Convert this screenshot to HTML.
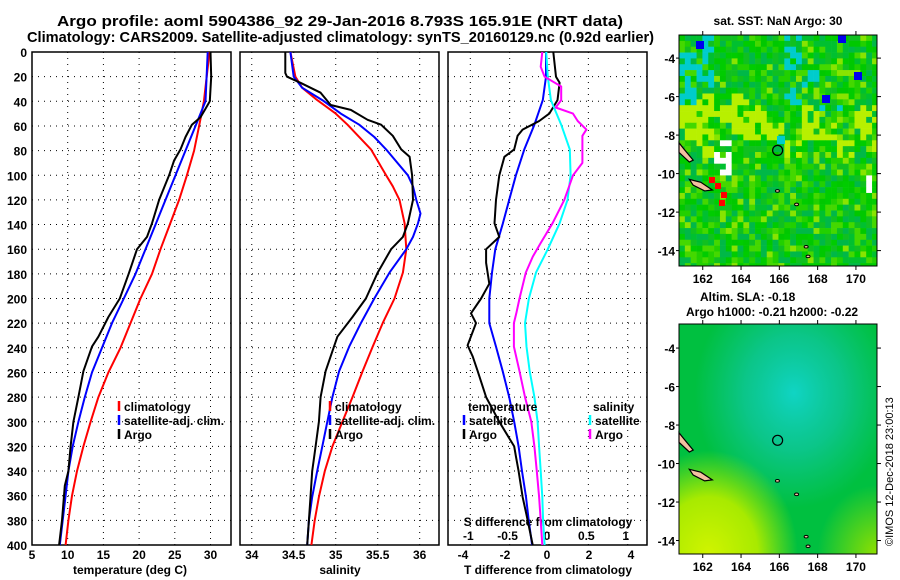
<!DOCTYPE html>
<html><head><meta charset="utf-8"><style>
html,body{margin:0;padding:0;background:#fff;}
svg{display:block;font-family:"Liberation Sans",Arial,sans-serif;font-weight:bold;}
</style></head><body>
<svg id="fig" width="900" height="580" viewBox="0 0 900 580" xmlns="http://www.w3.org/2000/svg">
<rect width="900" height="580" fill="#fff"/>
<text x="57" y="26" font-size="15" textLength="566" lengthAdjust="spacingAndGlyphs">Argo profile: aoml 5904386_92 29-Jan-2016 8.793S 165.91E (NRT data)</text>
<text x="27" y="42" font-size="15" textLength="627" lengthAdjust="spacingAndGlyphs">Climatology: CARS2009. Satellite-adjusted climatology: synTS_20160129.nc (0.92d earlier)</text>
<g id="p1"></g>
<g id="p2"></g>
<g id="p3"></g>
<g id="m1"></g>
<g id="m2"></g>
<text x="778" y="25" font-size="12" text-anchor="middle">sat. SST: NaN Argo: 30</text>
<text x="700" y="301" font-size="12">Altim. SLA: -0.18</text>
<text x="686" y="316" font-size="12">Argo h1000: -0.21 h2000: -0.22</text>
<text transform="translate(893,546) rotate(-90)" font-size="11" font-weight="normal">©IMOS 12-Dec-2018 23:00:13</text>
</svg>
<script>
// ---------- data ----------
const depthTicks = [0,20,40,60,80,100,120,140,160,180,200,220,240,260,280,300,320,340,360,380,400];
const climDepth = [0,40,60,80,100,120,140,160,180,200,220,240,260,280,300,320,340,360,380,400];
const tempClim = [29.86,29.07,28.4,27.7,26.7,25.6,24.3,23.0,21.8,20.2,18.8,17.4,15.7,14.3,13.2,12.2,11.3,10.6,10.1,9.7];
const tempSat = [29.6,29.3,27.9,26.5,25.1,23.7,22.3,20.9,19.5,17.85,16.2,14.8,13.4,12.4,11.5,10.7,10.1,9.7,9.3,8.9];
const argoTDepth = [0,20,40,46,53,59,69,79,88,100,120,139,150,160,179,200,215,231,239,259,280,300,320,340,352,380,400];
const tempArgo = [30.0,30.1,29.9,29.3,28.6,27.4,26.5,25.8,24.9,24.2,22.8,21.8,21.1,19.7,18.6,17.3,15.7,14.3,13.4,12.2,11.5,10.8,10.4,10.1,9.6,9.2,8.8];
const tempTicks = [5,10,15,20,25,30];

const salClimDepth = [0,20,29,39,50,59,79,100,109,120,139,160,179,200,220,239,259,280,300,320,340,361,380,400];
const salClim = [34.46,34.52,34.6,34.78,35.0,35.14,35.42,35.6,35.68,35.76,35.82,35.84,35.8,35.7,35.56,35.44,35.32,35.2,35.08,34.96,34.87,34.8,34.75,34.71];
const salSatDepth = [0,20,29,39,50,59,69,79,100,109,120,131,139,150,160,179,200,220,239,259,280,300,320,340,361,380,400];
const salSat = [34.46,34.5,34.6,34.84,35.06,35.28,35.46,35.6,35.86,35.92,35.96,36.01,35.98,35.92,35.84,35.64,35.46,35.3,35.16,35.04,34.96,34.9,34.84,34.78,34.72,34.68,34.66];
const salArgoDepth = [0,17,20,25,33,43,47,55,59,68,79,85,100,120,139,150,160,179,200,215,231,239,259,280,300,320,340,361,380,400];
const salArgo = [34.4,34.4,34.42,34.58,34.82,34.94,35.18,35.38,35.54,35.68,35.78,35.88,35.91,35.92,35.86,35.8,35.66,35.5,35.36,35.2,35.02,34.98,34.88,34.82,34.8,34.76,34.72,34.7,34.68,34.66];
const salTicks = ["34","34.5","35","35.5","36"];

const diffSatDepth = [0,20,39,59,79,100,120,139,160,179,200,220,239,259,280,300,320,340,361,380,400];
const dTempSat = [-0.05,-0.05,-0.2,-0.6,-1.08,-1.48,-1.8,-2.1,-2.46,-2.62,-2.75,-2.75,-2.43,-2.11,-1.8,-1.56,-1.35,-1.19,-1.0,-0.87,-0.71];
const dSalSat = [-0.01,0.01,0.05,0.18,0.29,0.3,0.26,0.16,0.01,-0.14,-0.23,-0.28,-0.26,-0.22,-0.16,-0.12,-0.1,-0.08,-0.06,-0.05,-0.03];
const dTArgoDepth = [0,20,25,39,50,56,63,68,79,85,100,120,139,150,160,171,179,188,200,212,220,238,247,259,280,300,320,328,340,361,380,400];
const dTempArgo = [0.3,0.43,0.6,0.5,0.11,-0.37,-1.16,-1.4,-1.56,-2.03,-2.27,-2.43,-2.5,-2.27,-2.9,-2.9,-2.83,-2.75,-3.14,-3.62,-3.38,-3.78,-3.54,-3.3,-2.9,-2.27,-1.56,-1.48,-1.35,-1.16,-0.92,-0.68];
const dSArgoDepth = [0,12,20,28,39,45,50,56,63,68,79,90,100,120,139,155,166,179,200,212,220,239,259,280,300,320,340,361,380,400];
const dSalArgo = [-0.06,-0.08,-0.03,0.18,0.18,0.11,0.33,0.39,0.5,0.45,0.45,0.45,0.33,0.22,0.07,-0.08,-0.18,-0.27,-0.35,-0.39,-0.42,-0.42,-0.35,-0.28,-0.2,-0.16,-0.13,-0.1,-0.08,-0.06];
const tDiffTicks = [-4,-2,0,2,4];
const sDiffTicks = ["-1","-0.5","0","0.5","1"];

const lonTicks = [162,164,166,168,170];
const latTicks1 = [-4,-6,-8,-10,-12,-14];
const argoLon = 165.91;
const argoLat = -8.793;

// ---------- helpers ----------
const NS = "http://www.w3.org/2000/svg";
function mk(tag, attrs, parent){const e=document.createElementNS(NS,tag);for(const k in attrs)e.setAttribute(k,attrs[k]);parent.appendChild(e);return e;}
const Y0=52, Y1=545;
const yD = d => Y0 + d*(Y1-Y0)/400;

function frame(g, x0, x1, xs, xmin, xmax){
  const sx = v => x0 + (v-xmin)*(x1-x0)/(xmax-xmin);
  depthTicks.forEach(d=>{ if(d>0 && d<400){
    const l=mk('line',{x1:x0,x2:x1,y1:yD(d),y2:yD(d),stroke:'#000','stroke-width':1,'stroke-dasharray':'1 5'},g);
    
    
  }});
  xs.forEach(v=>{ const x=sx(v); if(x>x0+1&&x<x1-1){
    const l=mk('line',{x1:x,x2:x,y1:Y0,y2:Y1,stroke:'#000','stroke-width':1,'stroke-dasharray':'1 5'},g);
    
    
  }});
  const r=mk('rect',{x:x0,y:Y0,width:x1-x0,height:Y1-Y0,fill:'none',stroke:'#000','stroke-width':1.5},g);
  
  
  return sx;
}
function series(g, xs, ds, sx, color, name){
  const pts = xs.map((v,i)=>sx(v).toFixed(1)+','+yD(ds[i]).toFixed(1)).join(' ');
  const p=mk('polyline',{points:pts,fill:'none',stroke:color,'stroke-width':2,'stroke-linejoin':'round'},g);
  
  
}
function txt(g,x,y,s,anchor,size,name){
  const t=mk('text',{x:x,y:y,'font-size':size||12,'text-anchor':anchor||'start'},g);
  t.textContent=s;
  
  
  return t;
}
function legend(g,x,y,color,label,name){
  const l=mk('line',{x1:x,x2:x,y1:y-10,y2:y,stroke:color,'stroke-width':2.5},g);
  
  
  txt(g,x+5,y,label,'start',12,name);
}

// ---------- panel 1 ----------
const g1=document.getElementById('p1');
const sx1=frame(g1,32,231,tempTicks,5,32.87);
depthTicks.forEach(d=>txt(g1,27,yD(d)+5,String(d),'end',12,'y-tick-label'));
tempTicks.forEach(v=>txt(g1,sx1(v),559,String(v),'middle',12,'x-tick-label'));
txt(g1,130,574,'temperature (deg C)','middle',12,'x-axis-title');
series(g1,tempClim,climDepth,sx1,'#ff0000','temp-climatology-line');
series(g1,tempSat,climDepth,sx1,'#0000ff','temp-satellite-line');
series(g1,tempArgo,argoTDepth,sx1,'#000','temp-argo-line');
legend(g1,119,411,'#f00','climatology','legend-climatology');
legend(g1,119,425,'#00f','satellite-adj. clim.','legend-satellite');
legend(g1,119,439,'#000','Argo','legend-argo');

// ---------- panel 2 ----------
const g2=document.getElementById('p2');
const sx2=frame(g2,240,439,salTicks.map(Number),33.86,36.23);
salTicks.forEach(v=>txt(g2,sx2(Number(v)),559,v,'middle',12,'x-tick-label'));
txt(g2,340,574,'salinity','middle',12,'x-axis-title');
series(g2,salClim,salClimDepth,sx2,'#ff0000','sal-climatology-line');
series(g2,salSat,salSatDepth,sx2,'#0000ff','sal-satellite-line');
series(g2,salArgo,salArgoDepth,sx2,'#000','sal-argo-line');
legend(g2,330,411,'#f00','climatology','legend-climatology');
legend(g2,330,425,'#00f','satellite-adj. clim.','legend-satellite');
legend(g2,330,439,'#000','Argo','legend-argo');

// ---------- panel 3 ----------
const g3=document.getElementById('p3');
frame(g3,448,647,sDiffTicks.map(Number),-1.2835,1.2450);
const sxT = v => 547 + v*21;
const sxSd = v => 547 + v*78.7;
sDiffTicks.forEach(v=>txt(g3,sxSd(Number(v)),540,v,'middle',12,'s-tick-label'));
txt(g3,548,526,'S difference from climatology','middle',12,'s-axis-title');
tDiffTicks.forEach(v=>txt(g3,sxT(v),559,String(v),'middle',12,'x-tick-label'));
txt(g3,548,574,'T difference from climatology','middle',12,'x-axis-title');
series(g3,dTempSat,diffSatDepth,sxT,'#0000ff','dtemp-satellite-line');
series(g3,dTempArgo,dTArgoDepth,sxT,'#000','dtemp-argo-line');
series(g3,dSalSat,diffSatDepth,sxSd,'#00ffff','dsal-satellite-line');
series(g3,dSalArgo,dSArgoDepth,sxSd,'#ff00ff','dsal-argo-line');
txt(g3,468,411,'temperature','start',12,'legend-temperature-heading');
legend(g3,464,425,'#00f','satellite','legend-temp-satellite');
legend(g3,464,439,'#000','Argo','legend-temp-argo');
txt(g3,593,411,'salinity','start',12,'legend-salinity-heading');
legend(g3,590,425,'#0ff','satellite','legend-sal-satellite');
legend(g3,590,439,'#f0f','Argo','legend-sal-argo');

// ---------- maps ----------
let seed=12345;
function rnd(){seed=(seed*1103515245+12345)%2147483648;return seed/2147483648;}
function mapAxes(g,x0,y0,x1,y1,latTop,latBot,lats,xlabY){
  const lonX = v => x0 + (v-160.76)*(x1-x0)/(171.1-160.76);
  const latY = v => y0 + (latTop-v)*(y1-y0)/(latTop-latBot);
  const r=mk('rect',{x:x0,y:y0,width:x1-x0,height:y1-y0,fill:'none',stroke:'#000','stroke-width':1},g);
  
  
  lonTicks.forEach(v=>{
    mk('line',{x1:lonX(v),x2:lonX(v),y1:y0-4,y2:y0,stroke:'#000'},g);
    mk('line',{x1:lonX(v),x2:lonX(v),y1:y1,y2:y1+4,stroke:'#000'},g);
    txt(g,lonX(v),xlabY,String(v),'middle',12,'lon-tick-label');
  });
  lats.forEach(v=>{
    mk('line',{x1:x1,x2:x1+4,y1:latY(v),y2:latY(v),stroke:'#000'},g);
    mk('line',{x1:x0-3,x2:x0,y1:latY(v),y2:latY(v),stroke:'#000'},g);
    txt(g,x0-4,latY(v)+5,String(v),'end',12,'lat-tick-label');
  });
  const isl=[[160.76,-8.4],[161.0,-8.7],[161.5,-9.3],[161.3,-9.4],[160.76,-8.9]];
  const p=mk('polygon',{points:isl.map(a=>lonX(a[0])+','+latY(a[1])).join(' '),fill:'#f4c0a0',stroke:'#000','stroke-width':1.2},g);
  
  
  const isl2=[[161.3,-10.3],[161.9,-10.45],[162.5,-10.85],[162.1,-10.9],[161.5,-10.6]];
  const p2=mk('polygon',{points:isl2.map(a=>lonX(a[0])+','+latY(a[1])).join(' '),fill:'#f4c0a0',stroke:'#000','stroke-width':1.2},g);
  
  
  [[165.9,-10.9],[166.9,-11.6],[167.4,-13.8],[167.5,-14.3]].forEach(a=>{
    const e=mk('ellipse',{cx:lonX(a[0]),cy:latY(a[1]),rx:2,ry:1.3,fill:'#f4c0a0',stroke:'#000'},g);
    
    
  });
  const c=mk('circle',{cx:lonX(argoLon),cy:latY(argoLat),r:5,fill:'none',stroke:'#000','stroke-width':1.2},g);
  
  
}
// map 1 texture (blocky noise)
const m1=document.getElementById('m1');
const pal=['#00cc00','#22d000','#00c800','#44d800','#00c030','#10c020','#00b848'];
const cell=5.85;
const coarse={};
for(let j=0;j<40;j++){for(let i=0;i<34;i++){
  const x=679+i*cell, y=35+j*cell; if(x>877||y>266) continue;
  const key=Math.floor(i/3)+'_'+Math.floor(j/3);
  if(coarse[key]===undefined) coarse[key]=rnd();
  const cr=coarse[key];
  let c=pal[Math.floor(rnd()*pal.length)];
  const r=rnd();
  const lat=-2.8-j*0.3;
  if(lat<-5.5&&lat>-9&&cr<0.45&&r<0.7) c='#b8f000';
  else if(lat>-6.5&&cr>0.8&&r<0.6) c='#00cccc';
  else if(lat>-11&&cr>0.9&&r<0.5) c='#ffffff';
  else if(r<0.08) c='#88e400';
  mk('rect',{x:x,y:y,width:Math.min(cell+0.3,877-x),height:Math.min(cell+0.3,266-y),fill:c},m1);
}}
[[700,45],[842,39],[858,76],[826,99],[781,140]].forEach(a=>mk('rect',{x:a[0]-4,y:a[1]-4,width:8,height:8,fill:a[1]===140?'#00cccc':'#0000ee'},m1));
[[712,180],[718,186],[724,195],[722,203]].forEach(a=>mk('rect',{x:a[0]-3,y:a[1]-3,width:6,height:6,fill:'#ff0000'},m1));
mapAxes(m1,679,35,877,266,-2.8,-14.8,latTicks1,283);
// map 2 gradient
const m2=document.getElementById('m2');
const defs=mk('defs',{},m2);
const rg=mk('radialGradient',{id:'cy',cx:'0.58',cy:'0.3',r:'0.5'},defs);
mk('stop',{offset:'0','stop-color':'#10d4c4'},rg);mk('stop',{offset:'0.5','stop-color':'#10c8a8','stop-opacity':0.7},rg);mk('stop',{offset:'1','stop-color':'#10c8a0','stop-opacity':0},rg);
const yg=mk('radialGradient',{id:'yl',cx:'0.15',cy:'1',r:'0.45'},defs);
mk('stop',{offset:'0','stop-color':'#d0f400'},yg);mk('stop',{offset:'0.55','stop-color':'#a8ea00'},yg);mk('stop',{offset:'1','stop-color':'#a0e800','stop-opacity':0},yg);
const yg2=mk('radialGradient',{id:'yl2',cx:'1',cy:'1',r:'0.3'},defs);
mk('stop',{offset:'0','stop-color':'#90e000'},yg2);mk('stop',{offset:'1','stop-color':'#90e000','stop-opacity':0},yg2);
mk('rect',{x:679,y:324,width:198,height:230,fill:'#00c040'},m2);
mk('rect',{x:679,y:324,width:198,height:230,fill:'url(#cy)'},m2);
mk('rect',{x:679,y:324,width:198,height:230,fill:'url(#yl)'},m2);
mk('rect',{x:679,y:324,width:198,height:230,fill:'url(#yl2)'},m2);
mapAxes(m2,679,324,877,554,-2.75,-14.7,latTicks1,571);
</script>
</body></html>
